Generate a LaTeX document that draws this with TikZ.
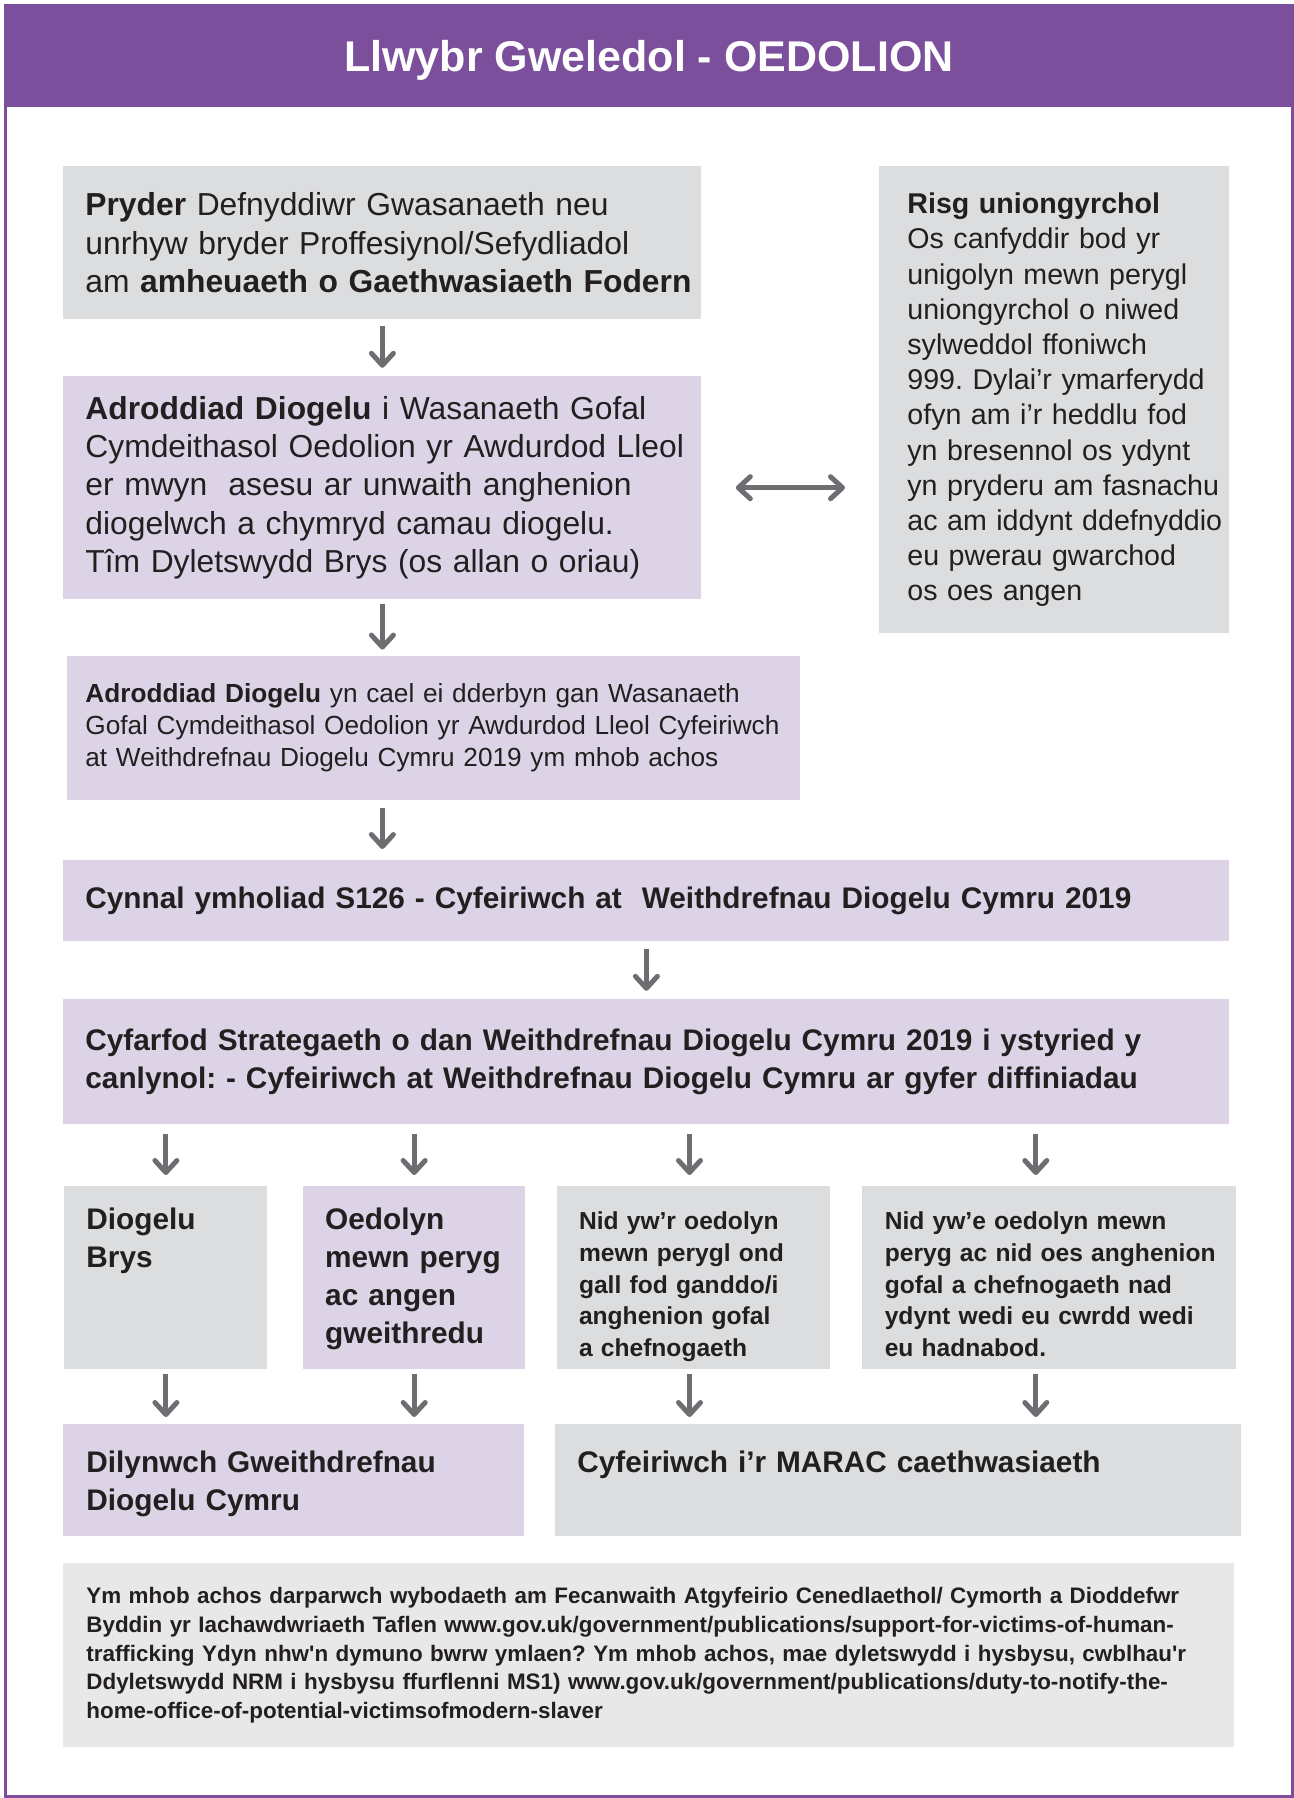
\documentclass[tikz,border=0pt]{standalone}
\usepackage{fontspec}
\setmainfont{Liberation Sans}
\usepackage{tikz}
\usetikzlibrary{arrows.meta,positioning}
\definecolor{headpurple}{RGB}{123,79,156}
\definecolor{lilac}{RGB}{221,211,230}
\definecolor{boxgrey}{RGB}{220,221,223}
\definecolor{notegrey}{RGB}{232,232,232}
\definecolor{arrowgrey}{RGB}{109,110,113}
\definecolor{inkdark}{RGB}{35,31,32}
\frenchspacing

\begin{document}
\begin{tikzpicture}[
        x=1pt, y=-1pt,
        >={Straight Barb[length=6pt,width=11pt,round]},
        box/.style={rectangle, fill=#1, text=inkdark, inner xsep=0pt, align=left, anchor=north west},
        pad/.style={execute at begin node={\leftskip=#1\relax}},
        rowbox/.style={inner ysep=10pt, text height=11.5pt, text depth=60pt},
        lowbox/.style={inner ysep=12pt, text height=12pt, text depth=20pt},
        flow/.style={->, draw=arrowgrey, line width=2.5pt},
        title/.style={fill=headpurple, text=white, font=\bfseries\fontsize{21.5}{26}\selectfont, minimum width=644.5pt, minimum height=51pt, inner sep=0pt, text height=20pt, text depth=4.5pt, anchor=north west},
        leadtext/.style={font=\fontsize{15.9}{19.2}\selectfont},
        risktext/.style={font=\fontsize{14.3}{17.6}\selectfont},
        smalltext/.style={font=\fontsize{13.1}{16}\selectfont},
        headtext/.style={font=\bfseries\fontsize{14.9}{19}\selectfont},
        slimtext/.style={font=\bfseries\fontsize{12.3}{15.9}\selectfont},
        notetext/.style={font=\bfseries\fontsize{11.2}{14.35}\selectfont}
    ]
        \useasboundingbox (0,0) rectangle (647,899);
        \draw[headpurple, line width=1.5pt] (2.75,2.75) rectangle (646.25,898.25);
        \node[title] (head) at (2,2.5) {Llwybr Gweledol - OEDOLION};

        \node[box=boxgrey, pad=11pt, leadtext, text width=319pt, minimum height=76.5pt] (pryder) at (31.5,83)
            {\textbf{Pryder} Defnyddiwr Gwasanaeth neu\\unrhyw bryder Proffesiynol/Sefydliadol\\\mbox{am \textbf{amheuaeth o Gaethwasiaeth Fodern}}};
        \node[box=lilac, pad=11pt, leadtext, text width=319pt, minimum height=111.5pt, below=28pt of pryder.south west, anchor=north west] (report)
            {\textbf{Adroddiad Diogelu} i Wasanaeth Gofal\\Cymdeithasol Oedolion yr Awdurdod Lleol\\er mwyn\ \ asesu ar unwaith anghenion\\diogelwch a chymryd camau diogelu.\\Tîm Dyletswydd Brys (os allan o oriau)};
        \node[box=boxgrey, pad=14pt, risktext, text width=175pt, minimum height=233.5pt] (risk) at (439.5,83)
            {\textbf{Risg uniongyrchol}\\Os canfyddir bod yr\\unigolyn mewn perygl\\uniongyrchol o niwed\\sylweddol ffoniwch\\999. Dylai’r ymarferydd\\ofyn am i’r heddlu fod\\yn bresennol os ydynt\\yn pryderu am fasnachu\\\mbox{ac am iddynt ddefnyddio}\\eu pwerau gwarchod\\os oes angen};
        \node[box=lilac, pad=9pt, smalltext, text width=366.5pt, minimum height=72pt, below=28pt of report.south west, xshift=2pt, anchor=north west] (received)
            {\textbf{Adroddiad Diogelu} yn cael ei dderbyn gan Wasanaeth\\Gofal Cymdeithasol Oedolion yr Awdurdod Lleol Cyfeiriwch\\at Weithdrefnau Diogelu Cymru 2019 ym mhob achos};
        \node[box=lilac, pad=11pt, headtext, text width=583pt, minimum height=40.5pt] (enquiry) at (31.5,430)
            {Cynnal ymholiad S126 - Cyfeiriwch at\ \ Weithdrefnau Diogelu Cymru 2019};
        \node[box=lilac, pad=11pt, headtext, text width=583pt, minimum height=62.5pt, below=28.5pt of enquiry.south west, anchor=north west] (strategy)
            {Cyfarfod Strategaeth o dan Weithdrefnau Diogelu Cymru 2019 i ystyried y\\canlynol: - Cyfeiriwch at Weithdrefnau Diogelu Cymru ar gyfer diffiniadau};

        \node[box=boxgrey, pad=11pt, rowbox, headtext, text width=101.5pt] (urgent) at (32,593) {Diogelu\\Brys};
        \node[box=lilac, pad=11pt, rowbox, headtext, text width=111pt, right=17.5pt of urgent.north east, anchor=north west] (atrisk)
            {Oedolyn\\mewn peryg\\ac angen\\gweithredu};
        \node[box=boxgrey, pad=11pt, rowbox, slimtext, text width=136.5pt, right=15.5pt of atrisk.north east, anchor=north west] (needs)
            {Nid yw’r oedolyn\\mewn perygl ond\\gall fod ganddo/i\\anghenion gofal\\a chefnogaeth};
        \node[box=boxgrey, pad=11.5pt, rowbox, slimtext, text width=187pt, right=15.5pt of needs.north east, anchor=north west] (noneeds)
            {Nid yw’e oedolyn mewn\\peryg ac nid oes anghenion\\gofal a chefnogaeth nad\\ydynt wedi eu cwrdd wedi\\eu hadnabod.};

        \node[box=lilac, pad=11.5pt, lowbox, headtext, text width=230.5pt] (follow) at (31.5,712) {Dilynwch Gweithdrefnau\\Diogelu Cymru};
        \node[box=boxgrey, pad=11pt, lowbox, headtext, text width=343pt] (marac) at (277.5,712) {Cyfeiriwch i’r MARAC caethwasiaeth};
        \node[box=notegrey, pad=11.5pt, notetext, text width=585.5pt, minimum height=92pt, below=13pt of follow.south west, anchor=north west] (notice)
            {Ym mhob achos darparwch wybodaeth am Fecanwaith Atgyfeirio Cenedlaethol/ Cymorth a Dioddefwr\\Byddin yr Iachawdwriaeth Taflen www.gov.uk/government/publications/support-for-victims-of-human-\\trafficking Ydyn nhw\textquotesingle n dymuno bwrw ymlaen? Ym mhob achos, mae dyletswydd i hysbysu, cwblhau\textquotesingle r\\Ddyletswydd NRM i hysbysu ffurflenni MS1) www.gov.uk/government/publications/duty-to-notify-the-\\home-office-of-potential-victimsofmodern-slaver};

        \draw[flow, shorten <=3pt, shorten >=4pt] (pryder.south) -- (report.north);
        \draw[flow, shorten <=2pt, shorten >=3pt] (report.south) -- (report.south |- received.north);
        \draw[flow, shorten <=4pt, shorten >=5.5pt] (report.south |- received.south) -- (report.south |- enquiry.north);
        \draw[flow, shorten <=3.5pt, shorten >=4pt] (enquiry.south) -- (strategy.north);
        \draw[flow, <->, shorten <=17pt, shorten >=17pt] (report.east) -- (report.east -| risk.west);
        \foreach \b/\s in {urgent/0, atrisk/0, needs/-2, noneeds/-6.5}
            \draw[flow, shorten <=4.5pt, shorten >=5.5pt] ([xshift=\s pt]strategy.south -| \b.north) -- ([xshift=\s pt]\b.north);
        \foreach \b/\s/\t in {urgent/0/follow, atrisk/0/follow, needs/-2/marac, noneeds/-6.5/marac}
            \draw[flow, shorten <=2pt, shorten >=3.5pt] ([xshift=\s pt]\b.south) -- ([xshift=\s pt]\b.south |- \t.north);
    \end{tikzpicture}
\end{document}
